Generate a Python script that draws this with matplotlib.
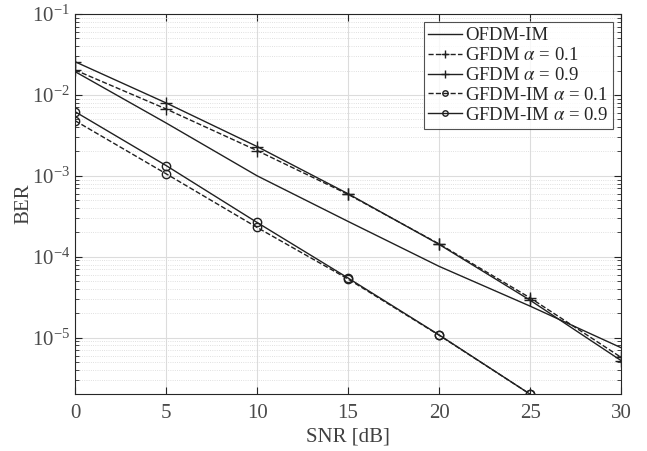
import numpy as np
import matplotlib.pyplot as plt
from matplotlib.ticker import LogLocator, NullFormatter

plt.rcParams['font.family'] = ['Liberation Serif', 'DejaVu Serif']
plt.rcParams['mathtext.fontset'] = 'stix'

# SNR points and BER curves
snr = [0, 5, 10, 15, 20, 25, 30]
snr_im = [0, 5, 10, 15, 20, 25]
ofdm_im = [1.94e-2, 4.5e-3, 1.0e-3, 2.73e-4, 7.6e-5, 2.45e-5, 7.5e-6]
gfdm_01 = [2.03e-2, 6.7e-3, 2.05e-3, 5.9e-4, 1.44e-4, 3.1e-5, 5.7e-6]
gfdm_09 = [2.57e-2, 7.96e-3, 2.3e-3, 6.0e-4, 1.42e-4, 2.9e-5, 5.2e-6]
gfdm_im_01 = [4.8e-3, 1.06e-3, 2.3e-4, 5.3e-5, 1.07e-5, 2.0e-6]
gfdm_im_09 = [6.2e-3, 1.34e-3, 2.65e-4, 5.45e-5, 1.08e-5, 2.0e-6]

fig = plt.figure(figsize=(6.47, 4.51), dpi=100)
ax = fig.add_axes([0.116, 0.126, 0.844, 0.843])

c = '#202020'
ax.semilogy(snr, ofdm_im, '-', color=c, lw=1.0, label='OFDM-IM')
ax.semilogy(snr, gfdm_01, '--+', color=c, lw=1.0, ms=9, label=r'GFDM $\alpha$ = 0.1')
ax.semilogy(snr, gfdm_09, '-+', color=c, lw=1.0, ms=9, label=r'GFDM $\alpha$ = 0.9')
ax.semilogy(snr_im, gfdm_im_01, '--o', color=c, lw=1.0, ms=6, mfc='none', label=r'GFDM-IM $\alpha$ = 0.1')
ax.semilogy(snr_im, gfdm_im_09, '-o', color=c, lw=1.0, ms=6, mfc='none', label=r'GFDM-IM $\alpha$ = 0.9')

ax.set_xlim(0, 30)
ax.set_ylim(2e-6, 1e-1)
ax.set_xticks([0, 5, 10, 15, 20, 25, 30])
ax.yaxis.set_major_locator(LogLocator(base=10, numticks=10))
ax.yaxis.set_minor_locator(LogLocator(base=10, subs=np.arange(2, 10), numticks=20))
ax.yaxis.set_minor_formatter(NullFormatter())

ax.grid(True, which='major', color='#dcdcdc', lw=0.8, ls='-')
ax.grid(True, which='minor', color='#d6d6d6', lw=0.6, ls=':')
ax.set_axisbelow(True)
ax.tick_params(which='both', direction='in', top=True, right=True, labelsize=15,
               colors='#262626', labelcolor='#4a4a4a')
ax.tick_params(axis='x', pad=7)
ax.tick_params(which='major', length=5)
ax.tick_params(which='minor', length=3)
for s in ax.spines.values():
    s.set_color('#262626')
    s.set_linewidth(0.8)

ax.set_xlabel('SNR [dB]', fontsize=15, color='#404040', labelpad=3)
ax.set_ylabel('BER', fontsize=15, color='#404040', labelpad=-1)

leg = ax.legend(loc='upper right', fontsize=13.5, frameon=True, fancybox=False,
                borderpad=0.25, labelspacing=0.15, handlelength=1.8, handletextpad=0.15,
                borderaxespad=0.45, markerscale=0.65)
leg.get_frame().set_edgecolor('#262626')
leg.get_frame().set_linewidth(0.8)
for t in leg.get_texts():
    t.set_color('#262626')

plt.savefig('out.png', dpi=100)
